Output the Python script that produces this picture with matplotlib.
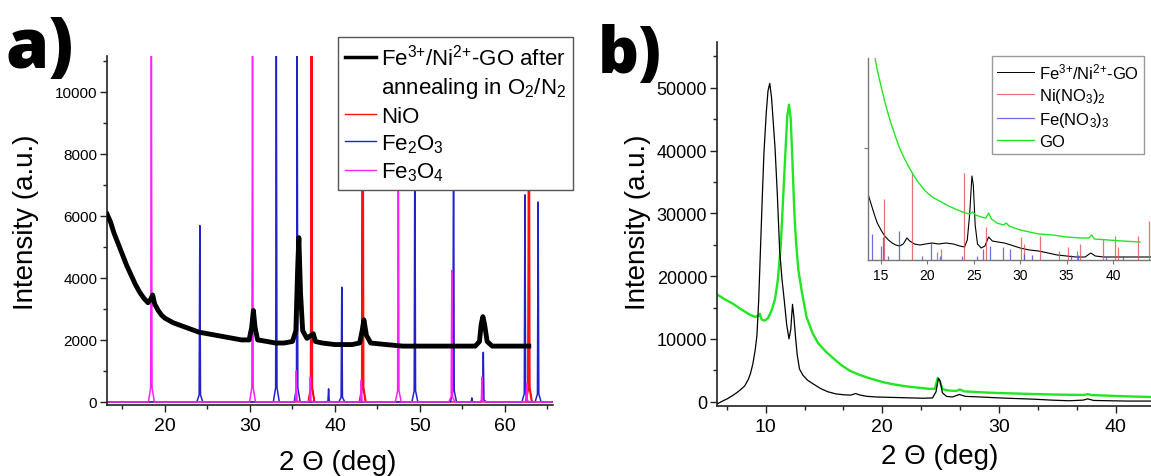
import matplotlib
matplotlib.use('Agg')
import matplotlib.pyplot as plt
from matplotlib.lines import Line2D
from matplotlib.ticker import MultipleLocator

plt.rcParams['font.family'] = ['Liberation Sans', 'DejaVu Sans']
plt.rcParams['mathtext.fontset'] = 'custom'
plt.rcParams['mathtext.rm'] = 'Liberation Sans'
plt.rcParams['mathtext.it'] = 'Liberation Sans:italic'
plt.rcParams['mathtext.bf'] = 'Liberation Sans:bold'

# ---- panel a: annealed sample + reference patterns
a_theta = [13.2, 13.6, 14.0, 14.5, 15.0, 15.5, 16.0, 16.5, 17.0, 17.5, 18.0, 18.3, 18.55,
           18.8, 19.2, 19.6, 20.0, 21.0, 22.0, 23.0, 24.0, 25.0, 26.0, 27.0, 28.0, 29.0,
           29.9, 30.2, 30.4, 30.6, 30.9, 32.0, 33.0, 34.0, 35.0, 35.4, 35.6, 35.75, 35.95,
           36.2, 36.7, 37.2, 37.45, 37.7, 38.5, 40.0, 41.0, 42.0, 42.9, 43.2, 43.4, 43.7,
           44.2, 46.0, 48.0, 50.0, 52.0, 54.0, 55.0, 56.5, 57.0, 57.2, 57.4, 57.6, 57.9,
           58.5, 60.0, 62.0, 62.8]
a_counts = [6050, 5800, 5450, 5100, 4750, 4400, 4100, 3800, 3550, 3350, 3200, 3300, 3450,
            3150, 2950, 2800, 2700, 2550, 2450, 2350, 2250, 2200, 2150, 2100, 2050, 2000,
            2000, 2400, 2950, 2400, 2000, 1950, 1900, 1900, 1950, 2300, 4200, 5300, 3500,
            2300, 2050, 2150, 2200, 1950, 1900, 1850, 1850, 1850, 1900, 2300, 2650, 2150,
            1900, 1850, 1800, 1800, 1800, 1800, 1800, 1800, 1950, 2500, 2750, 2500, 1950,
            1800, 1800, 1800, 1800]

nio_pos = [37.2, 37.27, 43.22, 43.3, 62.78, 62.85]
nio_int = [11600, 11600, 11600, 11600, 11600, 11600]
fe2o3_pos = [24.1, 33.1, 35.55, 39.25, 40.8, 49.4, 53.95, 56.1, 57.45, 62.35, 63.9]
fe2o3_int = [5690, 11600, 11600, 420, 3700, 9000, 9000, 130, 1600, 6680, 6450]
fe3o4_pos = [18.4, 30.3, 35.45, 37.1, 43.1, 47.45, 53.75, 57.3, 62.55]
fe3o4_int = [11600, 11600, 1000, 800, 700, 9000, 4240, 800, 600]

# ---- panel b: precursor / GO
b_theta = [5.9, 6.3, 6.7, 7.1, 7.5, 7.9, 8.2, 8.5, 8.7, 8.9, 9.1, 9.25, 9.4, 9.55, 9.7,
           9.85, 10.05, 10.2, 10.35, 10.5, 10.65, 10.8, 11.0, 11.2, 11.4, 11.6, 11.8, 12.0,
           12.15, 12.3, 12.42, 12.55, 12.7, 12.9, 13.2, 13.6, 14.1, 14.7, 15.3, 16.0, 16.7,
           17.3, 17.7, 18.1, 18.7, 19.5, 20.5, 21.5, 22.5, 23.5, 24.3, 24.6, 24.8, 24.95,
           25.15, 25.5, 26.0, 26.6, 27.1, 27.8, 29.0, 30.0, 31.5, 33.0, 34.5, 36.0, 37.2,
           37.6, 38.1, 39.5, 41.0, 43.0]
b_fe_ni_go = [-300, 100, 450, 900, 1400, 2000, 2500, 3500, 4500, 6000, 8200, 10500, 16000,
              24000, 32000, 39500, 46000, 49500, 50700, 48500, 44500, 40500, 33000, 24000,
              19500, 16000, 12300, 10000, 11500, 15500, 13500, 10500, 7500, 5200, 4200,
              3400, 2800, 2100, 1600, 1250, 1100, 1050, 1300, 1050, 850, 750, 700, 650,
              600, 550, 600, 1600, 3700, 3300, 1400, 850, 750, 1150, 850, 800, 700, 600,
              500, 400, 250, 150, 250, 450, 200, 150, 100, 100]

go_theta = [5.9, 6.5, 7.2, 7.9, 8.6, 9.1, 9.4, 9.5, 9.65, 9.9, 10.2, 10.5, 10.8, 11.05,
            11.3, 11.5, 11.7, 11.85, 12.0, 12.15, 12.3, 12.45, 12.6, 12.8, 13.1, 13.5,
            14.0, 14.5, 15.2, 15.8, 16.5, 17.2, 18.0, 18.7, 19.5, 20.2, 21.0, 22.0, 23.0,
            24.0, 24.5, 24.75, 24.9, 25.15, 25.6, 26.3, 26.65, 27.0, 28.0, 29.0, 30.0,
            31.5, 33.0, 34.5, 36.0, 37.3, 37.6, 38.0, 39.5, 41.0, 43.0]
go_counts = [17000, 16300, 15600, 14700, 13900, 13500, 13700, 14000, 13100, 12900, 13300,
             14500, 16300, 19500, 25000, 32500, 40000, 45500, 47300, 45000, 38000, 30500,
             25500, 21000, 17500, 13500, 11000, 9300, 7900, 6900, 5800, 4950, 4300, 3850,
             3400, 3050, 2750, 2450, 2250, 2050, 2050, 3800, 3400, 2000, 1800, 1700, 1950,
             1650, 1550, 1450, 1380, 1300, 1220, 1150, 1100, 1080, 1200, 1050, 950, 850, 750]

# ---- inset (arbitrary units)
in_theta = [13.6, 13.8, 14.0, 14.3, 14.6, 15.0, 15.4, 15.8, 16.2, 16.6, 17.0, 17.4, 17.8,
            18.1, 18.6, 19.2, 19.8, 20.5, 21.2, 22.0, 22.8, 23.5, 24.0, 24.3, 24.55, 24.8,
            24.95, 25.15, 25.4, 25.8, 26.2, 26.6, 27.0, 27.6, 28.3, 29.0, 30.0, 31.0, 32.0,
            33.0, 34.0, 35.0, 36.0, 37.0, 37.6, 38.1, 39.0, 40.5, 42.0, 44.1]
in_fe_ni_go = [66, 60, 54, 45, 37, 30, 24, 20, 17, 15, 14, 16, 22, 19, 16, 15, 16, 17, 16,
               17, 16, 14, 13, 20, 45, 84, 75, 35, 16, 12, 14, 23, 19, 18, 17, 15, 12, 10,
               9, 7, 5, 4, 3, 3, 7, 4, 3, 3, 3, 3]
in_go_theta = [14.3, 14.6, 15.0, 15.5, 16.0, 16.5, 17.0, 17.5, 18.0, 18.5, 19.0, 19.5, 20.0,
               20.7, 21.5, 22.3, 23.0, 23.8, 24.5, 24.9, 25.2, 25.8, 26.3, 26.6, 26.9, 27.5,
               28.2, 28.5, 28.8, 30.0, 31.0, 32.0, 33.5, 35.0, 36.5, 37.4, 37.7, 38.0, 39.5,
               41.0, 42.9]
in_go = [205, 190, 174, 155, 139, 125, 112, 102, 93, 85, 78, 72, 67, 62, 58, 54, 51, 48, 46,
         48, 45, 43, 42, 47, 41, 37, 35, 37, 34, 30, 28, 26, 25, 23, 22, 22, 25, 21, 20, 19, 18]
ni_nitrate_pos = [15.35, 18.3, 21.0, 21.5, 23.9, 26.3, 30.05, 30.4, 32.1, 34.2, 35.2, 36.1,
                  36.4, 38.9, 40.2, 40.5, 42.7, 43.9]
ni_nitrate_int = [61, 88, 8, 11, 87, 33, 23, 16, 24, 9, 13, 9, 16, 21, 24, 13, 24, 39]
fe_nitrate_pos = [14.0, 14.95, 15.25, 15.8, 16.95, 19.4, 20.4, 21.4, 23.7, 25.3, 26.0, 26.7,
                  28.2, 28.9, 30.4, 31.3, 35.5, 36.2, 39.3, 41.1]
fe_nitrate_int = [26, 14, 23, 4, 29, 4, 18, 4, 4, 4, 11, 14, 13, 11, 6, 5, 5, 5, 3, 4]


def stick_pattern(pos, hts, lo, hi, w=0.35):
    # narrow peak for every reference reflection on a zero baseline
    xs, ys = [lo], [0]
    for p, h in sorted(zip(pos, hts)):
        xs += [p - w, p - 0.08, p, p + 0.08, p + w]
        ys += [0, 0.04 * h, h, 0.04 * h, 0]
    xs.append(hi)
    ys.append(0)
    return xs, ys


W, H = 1151, 477
fig = plt.figure(figsize=(W / 100, H / 100), dpi=100)

def style_axis(ax, xfs, yfs):
    for s in ['top', 'right']:
        ax.spines[s].set_visible(False)
    for s in ['left', 'bottom']:
        ax.spines[s].set_linewidth(1.2)
        ax.spines[s].set_color('#222222')
    ax.tick_params(which='major', direction='out', length=5, width=1.0, color='#222222')
    ax.tick_params(which='minor', direction='out', length=3, width=1.0, color='#222222')
    ax.tick_params(axis='x', labelsize=xfs, pad=4)
    ax.tick_params(axis='y', labelsize=yfs, pad=2)

# ----- a)
ax1 = fig.add_axes([107 / W, 1 - 406 / H, 446 / W, 349 / H])
xlo, xhi = 13.18, 65.65
for pos, hts, col in [(nio_pos, nio_int, '#ff1010'),
                      (fe2o3_pos, fe2o3_int, '#2222cc'),
                      (fe3o4_pos, fe3o4_int, '#ff20ff')]:
    xs, ys = stick_pattern(pos, hts, xlo, xhi)
    ax1.plot(xs, ys, color=col, lw=1.1, zorder=2)
ax1.plot(a_theta, a_counts, color='black', lw=3.5, zorder=4)
ax1.set_xlim(xlo, xhi)
ax1.set_ylim(-100, 11160)
ax1.xaxis.set_major_locator(MultipleLocator(10))
ax1.xaxis.set_minor_locator(MultipleLocator(5))
ax1.yaxis.set_major_locator(MultipleLocator(2000))
ax1.yaxis.set_minor_locator(MultipleLocator(1000))
style_axis(ax1, 14, 11)
ax1.set_xlabel('2 \u0398 (deg)', fontsize=20)
ax1.set_ylabel('Intensity (a.u.)', fontsize=20)
ax1.xaxis.label.set_va('center')
ax1.yaxis.label.set_va('center')
ax1.xaxis.set_label_coords(0.518, -0.163)
ax1.yaxis.set_label_coords(-0.182, 0.527)

handles = [Line2D([], [], color='black', lw=2.5),
           Line2D([], [], color='none'),
           Line2D([], [], color='#ff1010', lw=1.0),
           Line2D([], [], color='#2222cc', lw=1.0),
           Line2D([], [], color='#ff20ff', lw=1.0)]
labels = [r'Fe$^{3{+}}$/Ni$^{2{+}}$-GO after', r'annealing in O$_2$/N$_2$',
          'NiO', r'Fe$_2$O$_3$', r'Fe$_3$O$_4$']
leg1 = fig.legend(handles, labels, loc='upper left', bbox_to_anchor=(338 / W, 1 - 38 / H),
                  fontsize=16, frameon=True, fancybox=False, framealpha=1,
                  edgecolor='#555555', borderpad=0.3, labelspacing=0.25,
                  handlelength=1.4, handletextpad=0.25, borderaxespad=0)
leg1.get_frame().set_linewidth(1.0)

# ----- b)
ax2 = fig.add_axes([717 / W, 1 - 407 / H, 434 / W, 364 / H])
ax2.plot(b_theta, b_fe_ni_go, color='black', lw=0.9, zorder=3)
ax2.plot(go_theta, go_counts, color='#22e622', lw=1.7, zorder=2)
ax2.set_xlim(5.83, 43.02)
ax2.set_ylim(-685, 57280)
ax2.xaxis.set_major_locator(MultipleLocator(10))
ax2.xaxis.set_minor_locator(MultipleLocator(10 / 3))
ax2.yaxis.set_major_locator(MultipleLocator(10000))
ax2.yaxis.set_minor_locator(MultipleLocator(5000))
style_axis(ax2, 14, 13)
ax2.set_xlabel('2 \u0398 (deg)', fontsize=20)
ax2.set_ylabel('Intensity (a.u.)', fontsize=20)
ax2.xaxis.label.set_va('center')
ax2.yaxis.label.set_va('center')
ax2.xaxis.set_label_coords(0.514, -0.137)
ax2.yaxis.set_label_coords(-0.182, 0.508)

# inset
ax3 = fig.add_axes([868 / W, 1 - 261 / H, 283 / W, 202 / H])
ax3.plot(in_theta, in_fe_ni_go, color='black', lw=0.8)
ax3.vlines(ni_nitrate_pos, 0, ni_nitrate_int, color='#e85050', lw=0.9, alpha=0.8)
ax3.vlines(fe_nitrate_pos, 0, fe_nitrate_int, color='#4a4ae6', lw=0.9, alpha=0.8)
ax3.plot(in_go_theta, in_go, color='#22e622', lw=1.0)
ax3.set_xlim(13.6, 44.1)
ax3.set_ylim(0, 202)
ax3.set_xticks([15, 20, 25, 30, 35, 40])
ax3.set_yticks([112])
ax3.set_yticklabels([])
for s in ['top', 'right']:
    ax3.spines[s].set_visible(False)
for s in ['left', 'bottom']:
    ax3.spines[s].set_color('#777777')
    ax3.spines[s].set_linewidth(1.0)
ax3.tick_params(direction='out', length=3, width=0.8, color='#777777', labelsize=10, pad=3)

h3 = [Line2D([], [], color='black', lw=0.7), Line2D([], [], color='#e85050', lw=0.9, alpha=0.8),
      Line2D([], [], color='#4a4ae6', lw=0.9, alpha=0.8), Line2D([], [], color='#22e622', lw=1.0)]
l3 = [r'Fe$^{3{+}}$/Ni$^{2{+}}$-GO', r'Ni(NO$_3$)$_2$', r'Fe(NO$_3$)$_3$', 'GO']
leg3 = fig.legend(h3, l3, loc='upper left', bbox_to_anchor=(992 / W, 1 - 57 / H),
                  fontsize=12, frameon=True, fancybox=False, framealpha=1,
                  edgecolor='#999999', borderpad=0.3, labelspacing=0.3,
                  handlelength=2.2, handletextpad=0.3, borderaxespad=0)
leg3.get_frame().set_linewidth(1.0)

# panel letters
fig.text(5 / W, 1 - 68 / H, 'a)', fontsize=50, fontweight='heavy', family='Open Sans',
         va='baseline', ha='left')
fig.text(598 / W, 1 - 73 / H, 'b)', fontsize=46, fontweight='heavy', family='Open Sans',
         va='baseline', ha='left')

fig.savefig('out.png', dpi=100)
plt.close(fig)
